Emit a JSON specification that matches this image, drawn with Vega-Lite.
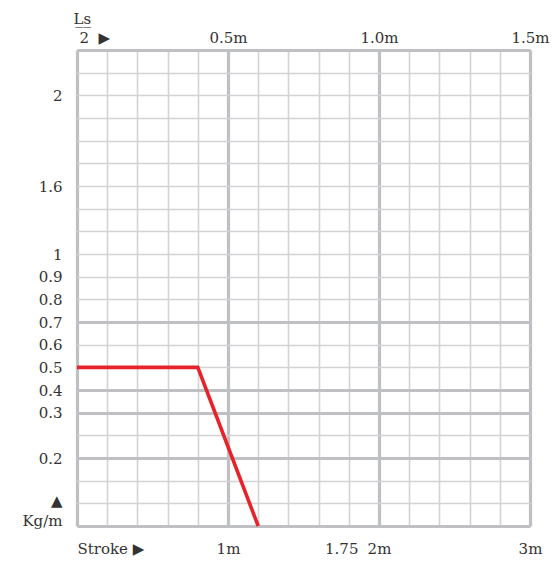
{
  "$schema": "https://vega.github.io/schema/vega-lite/v6.json",
  "width": 453,
  "height": 476,
  "autosize": "none",
  "padding": {"left": 77, "top": 50, "right": 26, "bottom": 37},
  "background": "white",
  "config": {
    "view": {"stroke": null},
    "axis": {"labelFont": "DejaVu Serif", "labelFontSize": 15, "labelColor": "#333333", "labelFlush": false, "labelOverlap": false, "labelBound": false, "domain": false, "ticks": false, "title": null,
      "titleFont": "DejaVu Serif", "titleFontSize": 15, "titleFontWeight": "normal", "titleColor": "#333333"}
  },
  "data": {"values": [
    {"stroke": 0, "weight": 0.5},
    {"stroke": 0.8, "weight": 0.5},
    {"stroke": 1.2, "weight": 0.05}
  ]},
  "resolve": {"axis": {"x": "independent", "y": "independent"}},
  "layer": [
    {
      "mark": {"type": "line", "opacity": 0},
      "encoding": {
        "x": {"field": "stroke", "type": "quantitative",
          "scale": {"domain": [0, 3], "nice": false, "zero": false},
          "axis": {"orient": "bottom", "values": [0,0.2,0.4,0.6,0.8,1,1.2,1.4,1.6,1.8,2,2.2,2.4,2.6,2.8,3], "grid": true, "gridColor": "#d3d3d6", "gridWidth": 1.6, "labels": false}},
        "y": {"field": "weight", "type": "quantitative",
          "scale": {"domain": [0.05, 0.3, 1, 1.6, 2, 2.2], "range": [476, 362.67, 204, 136, 45.33, 0], "nice": false, "zero": false},
          "axis": {"orient": "left", "values": [2.2,2.1,2,1.9,1.8,1.7,1.6,1.4,1.2,1,0.9,0.8,0.7,0.6,0.5,0.4,0.3,0.25,0.2,0.15,0.1,0.05], "grid": true, "gridColor": "#d3d3d6", "gridWidth": 1.6, "labels": false}}
      }
    },
    {
      "mark": {"type": "line", "opacity": 0},
      "encoding": {
        "x": {"field": "stroke", "type": "quantitative",
          "scale": {"domain": [0, 3], "nice": false, "zero": false},
          "axis": {"orient": "bottom", "values": [0, 1, 2, 3], "grid": true, "gridColor": "#bfc0c4", "gridWidth": 3.2, "labels": false}},
        "y": {"field": "weight", "type": "quantitative",
          "scale": {"domain": [0.05, 0.3, 1, 1.6, 2, 2.2], "range": [476, 362.67, 204, 136, 45.33, 0], "nice": false, "zero": false},
          "axis": {"orient": "left", "values": [2.2, 0.7, 0.4, 0.3, 0.2, 0.05], "grid": true, "gridColor": "#bfc0c4", "gridWidth": 3.2, "labels": false}}
      }
    },
    {
      "mark": {"type": "line", "opacity": 0},
      "encoding": {
        "x": {"field": "stroke", "type": "quantitative",
          "scale": {"domain": [0, 3], "nice": false, "zero": false},
          "axis": {"orient": "bottom", "values": [0, 1, 1.75, 2, 3], "grid": false, "labelPadding": 15,
            "labelExpr": "datum.value == 0 ? 'Stroke ▶' : (datum.value == 1.75 ? '1.75' : datum.value + 'm')",
            "labelAlign": {"condition": {"test": "datum.value == 0", "value": "left"}, "value": "center"}}},
        "y": {"field": "weight", "type": "quantitative",
          "scale": {"domain": [0.05, 0.3, 1, 1.6, 2, 2.2], "range": [476, 362.67, 204, 136, 45.33, 0], "nice": false, "zero": false},
          "axis": {"orient": "left", "values": [2, 1.6, 1, 0.9, 0.8, 0.7, 0.6, 0.5, 0.4, 0.3, 0.2, 0.107, 0.063], "grid": false, "labelPadding": 15,
            "labelExpr": "datum.value == 0.107 ? '▲' : (datum.value == 0.063 ? 'Kg/m' : '' + datum.value)"}}
      }
    },
    {
      "mark": {"type": "line", "opacity": 0},
      "encoding": {
        "x": {"field": "stroke", "type": "quantitative",
          "scale": {"domain": [0, 3], "nice": false, "zero": false},
          "axis": {"orient": "top", "values": [0, 1, 2, 3], "grid": false, "labelPadding": 5,
            "title": "L̲s̲", "titleX": -4, "titleY": -27, "titleAlign": "left", "titleAnchor": "start", "titleBaseline": "alphabetic", "titleAngle": 0,
            "labelExpr": "datum.value == 0 ? '2\u00a0\u00a0▶' : (datum.value == 1 ? '0.5m' : (datum.value == 2 ? '1.0m' : '1.5m'))",
            "labelOffset": {"condition": {"test": "datum.value == 0", "value": 2}, "value": 0},
            "labelAlign": {"condition": {"test": "datum.value == 0", "value": "left"}, "value": "center"}}},
        "y": {"field": "weight", "type": "quantitative", "axis": null}
      }
    },
    {
      "mark": {"type": "line", "color": "#e8222a", "strokeWidth": 3.6},
      "encoding": {
        "x": {"field": "stroke", "type": "quantitative", "axis": null},
        "y": {"field": "weight", "type": "quantitative", "axis": null}
      }
    }
  ]
}
